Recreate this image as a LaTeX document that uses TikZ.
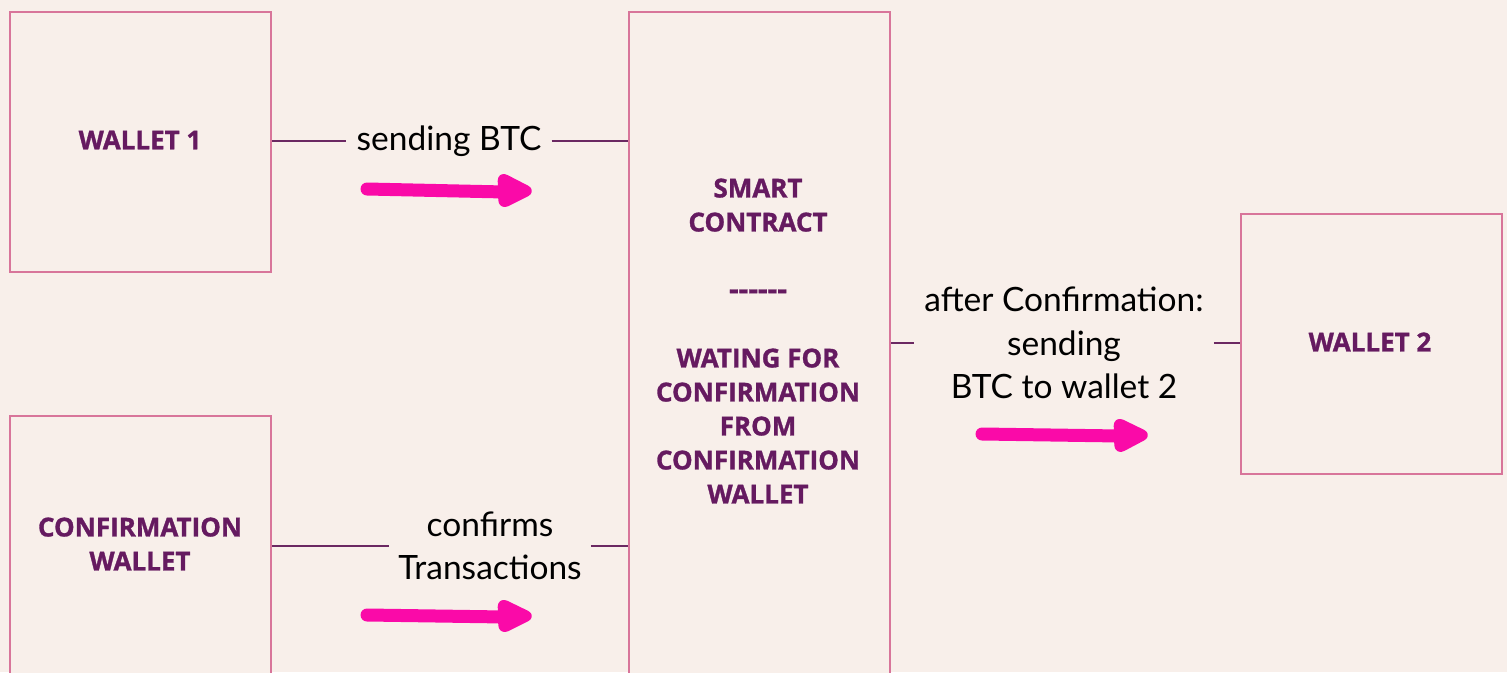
\documentclass[tikz,border=0pt]{standalone}
\usepackage{fontspec}
\setmainfont{Lato}
\newfontfamily\boxfont{Open Sans}[BoldFeatures={FakeBold=1.2}]
\definecolor{bg}{HTML}{F8EFEA}
\definecolor{boxline}{HTML}{D8759A}
\definecolor{txt}{HTML}{651A60}
\definecolor{conn}{HTML}{6B2862}
\definecolor{arr}{HTML}{FA0AA8}
\tikzset{
  wbox/.style={draw=boxline, line width=2pt, fill=bg, rectangle, inner sep=0pt},
  btext/.style={text=txt, font=\boxfont\fontsize{26}{34}\selectfont\bfseries, align=center, inner sep=0pt},
  ltext/.style={text=black, font=\fontsize{33.5}{43.5}\selectfont, align=center, inner sep=10pt},
  connline/.style={draw=conn, line width=1.6pt},
  handarrow/.style={draw=arr, line width=13pt, line cap=round},
  handhead/.style={fill=arr, draw=arr, line width=5pt, line join=round, rounded corners=7pt},
}
\begin{document}
\begin{tikzpicture}[x=1pt,y=-1pt]
\useasboundingbox (0,0) rectangle (1507,672);
\fill[bg] (0,0) rectangle (1507,672);
\clip (0,0) rectangle (1507,672);

\node[wbox, minimum width=261pt, minimum height=260pt, anchor=north west] (w1) at (9,11) {};
\node[btext] (w1t) at (140,140) {WALLET 1};

\node[wbox, minimum width=261pt, minimum height=300pt, anchor=north west] (cw) at (9,415) {};
\node[btext] (cwt) at (140,544) {CONFIRMATION\\WALLET};

\node[wbox, minimum width=261pt, minimum height=700pt, anchor=north west] (sc) at (628,11) {};
\node[btext] (sct) at (758,341) {SMART\\CONTRACT\\[34pt]{\fontsize{30}{34}\selectfont{-}{-}{-}{-}{-}{-}}\\[34pt]WATING FOR\\CONFIRMATION\\FROM\\CONFIRMATION\\WALLET};

\node[wbox, minimum width=261pt, minimum height=260pt, anchor=north west] (w2) at (1240,213) {};
\node[btext] (w2t) at (1370,342) {WALLET 2};

\node[ltext, anchor=center] (l1) at (449,141) {sending BTC};
\node[ltext, inner xsep=9pt] (l2) at (490,546) {confirms\\Transactions};
\node[ltext, inner xsep=10pt] (l3) at (1064,343) {after Confirmation:\\sending\\BTC to wallet 2};

\draw[connline] (w1.east |- l1) -- (l1.west);
\draw[connline] (l1.east) -- (l1.east -| sc.west);
\draw[connline] (cw.east |- l2) -- (l2.west);
\draw[connline] (l2.east) -- (l2.east -| sc.west);
\draw[connline] (sc.east |- l3) -- (l3.west);
\draw[connline] (l3.east) -- (l3.east -| w2.west);

% hand-drawn arrows
\coordinate (a1s) at (367,189);
\coordinate (a1e) at (505,192);
\draw[handarrow] (a1s) -- (a1e);
\filldraw[handhead] (500,174) -- (533,191) -- (501,207) -- cycle;

\coordinate (a2s) at (367,615);
\coordinate (a2e) at (505,617);
\draw[handarrow] (a2s) -- (a2e);
\filldraw[handhead] (500,600) -- (533,616) -- (501,632) -- cycle;

\coordinate (a3s) at (982,434);
\coordinate (a3e) at (1120,436);
\draw[handarrow] (a3s) -- (a3e);
\filldraw[handhead] (1116,419) -- (1149,435) -- (1117,452) -- cycle;
\end{tikzpicture}
\end{document}
